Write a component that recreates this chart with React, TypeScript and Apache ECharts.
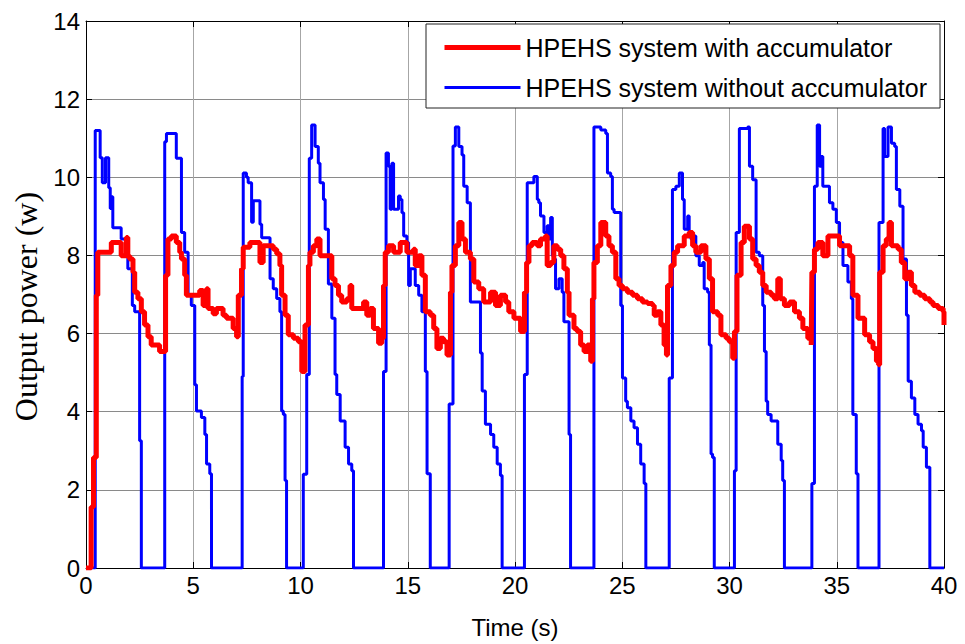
import { useEffect, useRef } from "react";
import * as echarts from "echarts";

const legendNames = ["HPEHS system with accumulator", "HPEHS system without accumulator"];
const xTickValues = [0, 5, 10, 15, 20, 25, 30, 35, 40];
const yTickValues = [0, 2, 4, 6, 8, 10, 12, 14];
const xLabel = "Time (s)";
const yLabel = "Output power (w)";

// HPEHS system with accumulator: [time (s), power (w)]
const withAccumulator: [number, number][] = [
  [0, 0], [0.24, 1.56], [0.35, 2.83], [0.48, 6.98], [0.55, 8.08], [1.18, 8.33], [1.64, 7.99], [1.88, 8.46], [1.95, 7.99], [2.03, 7.91],
  [2.19, 7.57], [2.27, 7.06], [2.42, 6.89], [2.58, 6.56], [2.73, 6.22], [2.89, 5.92], [3.04, 5.71], [3.43, 5.54], [3.71, 7.49], [3.82, 8.42],
  [3.98, 8.5], [4.21, 8.33], [4.37, 8.08], [4.45, 7.91], [4.6, 7.49], [4.68, 6.98], [5.3, 7.1], [5.46, 6.72], [5.62, 7.15], [5.69, 6.64],
  [5.93, 6.51], [6.08, 6.64], [6.39, 6.47], [6.55, 6.39], [6.86, 6.13], [7.02, 5.92], [7.1, 6.98], [7.25, 7.66], [7.33, 8.21], [7.64, 8.33],
  [8.11, 7.82], [8.26, 8.25], [8.73, 8.16], [8.89, 8.04], [9.04, 7.74], [9.12, 6.98], [9.28, 6.47], [9.43, 5.97], [9.67, 5.88], [9.9, 5.79],
  [10.06, 5.03], [10.21, 6.22], [10.37, 7.74], [10.44, 8.08], [10.6, 8.25], [10.76, 8.42], [10.91, 7.99], [11.46, 7.4], [11.61, 7.23], [11.77, 6.98],
  [11.92, 6.81], [12.16, 6.89], [12.31, 7.23], [12.39, 6.64], [12.94, 6.81], [13.09, 6.47], [13.25, 6.64], [13.4, 6.13], [13.64, 5.75], [13.79, 5.88],
  [13.87, 7.23], [13.95, 8.08], [14.1, 8.25], [14.34, 8.08], [14.65, 8.33], [14.96, 8.08], [15.27, 8.16], [15.35, 7.74], [15.51, 7.99], [15.66, 7.49],
  [15.82, 6.56], [16.05, 6.47], [16.21, 6.13], [16.36, 5.62], [16.52, 5.88], [16.67, 5.79], [16.83, 5.45], [16.99, 7.06], [17.06, 7.74], [17.22, 8.25],
  [17.38, 8.84], [17.53, 8.42], [17.69, 8.08], [17.92, 7.91], [18.08, 7.32], [18.31, 7.15], [18.54, 6.81], [18.86, 7.06], [19.09, 6.72], [19.32, 6.98],
  [19.56, 6.81], [19.71, 6.56], [19.95, 6.39], [20.26, 6.05], [20.44, 7.06], [20.54, 7.82], [20.65, 8.25], [20.8, 8.33], [21.04, 8.25], [21.19, 8.42],
  [21.42, 8.5], [21.5, 7.74], [21.66, 7.82], [21.81, 8.25], [21.97, 8.16], [22.13, 7.99], [22.28, 7.66], [22.44, 7.06], [22.52, 6.47], [22.75, 6.13],
  [22.9, 6.05], [23.06, 5.71], [23.22, 5.54], [23.37, 5.71], [23.53, 5.29], [23.61, 6.89], [23.68, 7.82], [23.84, 8.25], [24.0, 8.84], [24.23, 8.5],
  [24.38, 8.25], [24.54, 8.08], [24.7, 7.4], [24.85, 7.23], [25.01, 7.15], [25.24, 7.06], [25.48, 6.98], [25.71, 6.89], [25.94, 6.81], [26.18, 6.77],
  [26.41, 6.72], [26.49, 6.47], [26.64, 6.56], [26.8, 6.22], [26.95, 5.71], [27.06, 5.45], [27.11, 7.23], [27.27, 7.74], [27.42, 8.08], [27.58, 8.25],
  [27.89, 8.5], [28.12, 8.59], [28.28, 8.25], [28.43, 8.08], [28.67, 8.25], [28.9, 7.91], [29.06, 7.4], [29.21, 6.56], [29.45, 6.47], [29.6, 5.97],
  [29.84, 5.88], [29.99, 5.79], [30.15, 5.37], [30.23, 6.05], [30.35, 7.49], [30.54, 8.33], [30.69, 8.75], [30.93, 8.42], [31.08, 7.91], [31.24, 7.74],
  [31.39, 7.57], [31.55, 7.23], [31.71, 7.06], [31.94, 6.98], [32.09, 6.89], [32.25, 7.4], [32.37, 6.89], [32.56, 6.72], [32.8, 6.81], [33.03, 6.56],
  [33.26, 6.39], [33.42, 6.13], [33.65, 5.88], [33.81, 5.71], [33.84, 7.57], [33.96, 8.16], [34.12, 8.33], [34.35, 7.99], [34.59, 8.5], [34.9, 8.5],
  [35.13, 8.25], [35.37, 8.25], [35.6, 7.99], [35.75, 6.98], [35.99, 6.39], [36.3, 5.97], [36.53, 5.79], [36.69, 5.62], [36.85, 5.29], [36.95, 5.2],
  [37.0, 7.57], [37.16, 8.25], [37.31, 8.42], [37.44, 8.84], [37.55, 8.25], [37.86, 8.16], [38.01, 7.82], [38.17, 7.4], [38.33, 7.57], [38.48, 7.23],
  [38.64, 7.06], [38.87, 6.98], [39.1, 6.89], [39.34, 6.81], [39.49, 6.72], [39.73, 6.64], [39.96, 6.56], [40.0, 6.22],
];

// HPEHS system without accumulator: [time (s), power (w)]
const withoutAccumulator: [number, number][] = [
  [0, 0], [0.43, 11.2], [0.66, 10.5], [0.76, 9.86], [0.91, 10.5], [1.06, 9.73], [1.13, 9.2], [1.18, 9.5], [1.25, 8.71], [1.64, 8.42],
  [1.95, 7.66], [2.16, 6.72], [2.27, 6.56], [2.5, 3.26], [2.58, 0],
  [3.67, 10.91], [3.75, 11.12], [4.21, 10.49], [4.45, 8.59], [4.6, 8.08], [4.76, 7.0], [4.91, 6.72], [5.07, 4.69], [5.15, 4.02], [5.38, 3.85],
  [5.54, 3.42], [5.62, 2.66], [5.77, 2.41], [5.85, 0],
  [7.28, 4.9], [7.33, 10.11], [7.48, 10.0], [7.56, 9.86], [7.72, 8.85], [7.8, 9.4], [8.11, 8.8], [8.19, 8.45], [8.58, 7.4], [8.73, 7.15],
  [8.89, 6.9], [9.04, 6.56], [9.12, 4.02], [9.2, 3.93], [9.28, 2.24], [9.35, 0],
  [10.13, 2.4], [10.29, 4.95], [10.41, 10.49], [10.52, 11.34], [10.68, 10.79], [10.83, 10.36], [10.91, 9.86], [11.07, 9.43], [11.15, 8.67], [11.3, 7.27],
  [11.46, 6.39], [11.61, 4.95], [11.69, 4.44], [11.85, 3.76], [12.08, 3.09], [12.24, 2.66], [12.39, 2.49], [12.47, 0],
  [13.87, 5.03], [13.99, 10.62], [14.1, 10.28], [14.18, 9.18], [14.26, 10.36], [14.34, 9.18], [14.57, 9.52], [14.65, 9.43], [14.73, 9.09], [14.81, 8.5],
  [14.96, 8.33], [15.04, 7.23], [15.12, 7.66], [15.35, 7.23], [15.51, 6.98], [15.66, 6.56], [15.82, 5.03], [15.9, 2.41], [16.05, 0],
  [16.93, 4.2], [17.11, 10.8], [17.22, 11.29], [17.38, 10.79], [17.53, 10.57], [17.61, 9.77], [17.77, 9.35], [17.92, 6.81], [18.39, 5.5], [18.47, 4.53],
  [18.62, 3.68], [18.86, 3.42], [19.01, 3.09], [19.17, 2.66], [19.32, 2.37], [19.4, 0],
  [20.44, 4.95], [20.57, 9.86], [20.88, 10.02], [21.04, 9.43], [21.11, 9.35], [21.19, 9.01], [21.35, 8.59], [21.5, 8.76], [21.58, 8.42], [21.66, 8.97],
  [21.74, 7.99], [21.81, 7.91], [21.89, 7.15], [22.05, 7.4], [22.2, 7.06], [22.28, 6.3], [22.52, 3.42], [22.59, 0],
  [23.68, 11.29], [24.0, 11.21], [24.23, 11.12], [24.31, 10.11], [24.46, 10.02], [24.54, 9.18], [24.62, 9.1], [24.93, 6.72], [25.01, 4.86], [25.16, 4.27],
  [25.24, 4.1], [25.4, 3.76], [25.55, 3.59], [25.71, 3.17], [25.86, 2.66], [26.02, 2.16], [26.1, 0],
  [27.19, 4.86], [27.34, 9.69], [27.5, 9.77], [27.66, 10.11], [27.81, 9.43], [27.89, 8.67], [28.05, 9.01], [28.12, 8.59], [28.2, 8.42], [28.36, 8.5],
  [28.43, 7.99], [28.59, 7.74], [28.75, 7.82], [28.82, 7.15], [28.98, 7.06], [29.06, 5.71], [29.14, 2.92], [29.21, 2.83], [29.29, 0],
  [30.23, 2.49], [30.31, 8.59], [30.46, 11.25], [30.85, 11.29], [30.93, 10.28], [31.08, 9.94], [31.24, 8.08], [31.39, 7.99], [31.55, 6.72], [31.63, 5.54],
  [31.71, 4.27], [31.78, 3.93], [31.94, 3.76], [32.25, 3.17], [32.41, 2.75], [32.48, 2.24], [32.56, 0],
  [33.84, 2.16], [33.96, 9.77], [34.09, 11.34], [34.2, 10.28], [34.28, 10.53], [34.35, 9.77], [34.66, 9.35], [34.82, 9.18], [34.98, 8.84], [35.13, 8.33],
  [35.29, 7.74], [35.52, 7.32], [35.68, 6.89], [35.75, 3.93], [35.91, 2.41], [35.99, 0],
  [36.97, 8.84], [37.16, 11.25], [37.23, 10.53], [37.39, 11.29], [37.55, 10.87], [37.7, 10.79], [37.78, 9.69], [37.94, 9.26], [38.09, 7.91], [38.25, 6.47],
  [38.33, 4.78], [38.48, 4.35], [38.64, 3.93], [38.79, 3.68], [38.95, 3.51], [39.03, 3.09], [39.18, 2.58], [39.34, 0], [40, 0],
];

const SANS = "'Liberation Sans', Arial, sans-serif";
const SERIF = "'Liberation Serif', 'Times New Roman', serif";

export default function App() {
  const ref = useRef<HTMLDivElement>(null);

  useEffect(() => {
    if (!ref.current) return;
    const chart = echarts.init(ref.current, null, { renderer: "svg" });
    const xMin = xTickValues[0];
    const xMax = xTickValues[xTickValues.length - 1];
    const xInt = xTickValues[1] - xTickValues[0];
    const yMin = yTickValues[0];
    const yMax = yTickValues[yTickValues.length - 1];
    const yInt = yTickValues[1] - yTickValues[0];

    const boxAxis = {
      axisLine: { show: true, onZero: false, lineStyle: { color: "#000", width: 1 } },
      axisTick: { show: true, inside: true, length: 6, lineStyle: { color: "#000", width: 1 } },
    };

    chart.setOption({
      animation: false,
      backgroundColor: "#fff",
      grid: { left: 86, right: 21, top: 21, bottom: 72, containLabel: false },
      legend: {
        orient: "vertical",
        left: 426,
        top: 24,
        data: [
          { name: legendNames[0], lineStyle: { width: 5, color: "#ff0000" }, itemStyle: { opacity: 0 } },
          { name: legendNames[1], lineStyle: { width: 3, color: "#0000ff" }, itemStyle: { opacity: 0 } },
        ],
        itemWidth: 76,
        itemHeight: 14,
        itemGap: 15,
        padding: [11, 13, 8, 16],
        backgroundColor: "#fff",
        borderColor: "#222",
        borderWidth: 1,
        borderRadius: 0,
        textStyle: { fontFamily: SANS, fontSize: 25, color: "#000", lineHeight: 25 },
        selectedMode: false,
      },
      xAxis: [
        {
          type: "value",
          position: "bottom",
          min: xMin,
          max: xMax,
          interval: xInt,
          name: xLabel,
          nameLocation: "middle",
          nameGap: 47,
          nameTextStyle: { fontFamily: SANS, fontSize: 24, color: "#000" },
          ...boxAxis,
          axisLabel: { fontFamily: SANS, fontSize: 24, color: "#000", margin: 5 },
          splitLine: { show: true, lineStyle: { color: "#a6a6a6", width: 1 } },
        },
        {
          type: "value",
          position: "top",
          min: xMin,
          max: xMax,
          interval: xInt,
          ...boxAxis,
          axisLabel: { show: false },
          splitLine: { show: false },
        },
      ],
      yAxis: [
        {
          type: "value",
          position: "left",
          min: yMin,
          max: yMax,
          interval: yInt,
          name: yLabel,
          nameLocation: "middle",
          nameGap: 43,
          nameRotate: 90,
          nameTextStyle: { fontFamily: SERIF, fontSize: 32, color: "#000", padding: [0, 24, 0, 0] },
          ...boxAxis,
          axisLabel: { fontFamily: SANS, fontSize: 24, color: "#000", margin: 6 },
          splitLine: { show: true, lineStyle: { color: "#8a8a8a", width: 1 } },
        },
        {
          type: "value",
          position: "right",
          min: yMin,
          max: yMax,
          interval: yInt,
          ...boxAxis,
          axisLabel: { show: false },
          splitLine: { show: false },
        },
      ],
      series: [
        {
          name: legendNames[1],
          type: "line",
          xAxisIndex: 0,
          yAxisIndex: 0,
          step: "end",
          showSymbol: false,
          symbol: "none",
          data: withoutAccumulator,
          lineStyle: { color: "#0000ff", width: 3 },
          itemStyle: { color: "#0000ff" },
          z: 2,
        },
        {
          name: legendNames[0],
          type: "line",
          xAxisIndex: 0,
          yAxisIndex: 0,
          step: "end",
          showSymbol: false,
          symbol: "none",
          data: withAccumulator,
          lineStyle: { color: "#ff0000", width: 5 },
          itemStyle: { color: "#ff0000" },
          z: 3,
        },
      ],
    });

    return () => chart.dispose();
  }, []);

  return (
    <div
      ref={ref}
      style={{ position: "fixed", left: 0, top: 0, width: 965, height: 644, background: "#fff" }}
    />
  );
}
